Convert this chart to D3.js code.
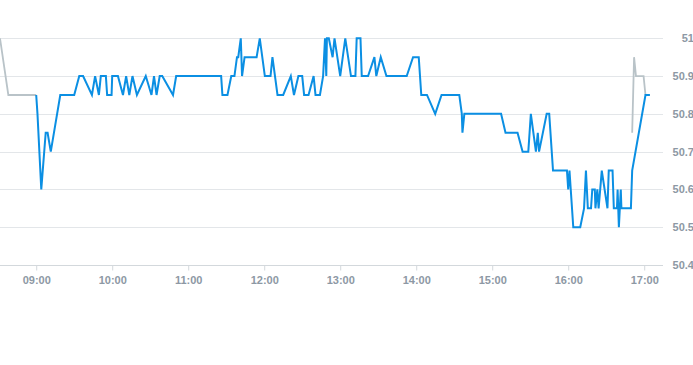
<!DOCTYPE html>
<html>
<head>
<meta charset="utf-8">
<script src="https://cdn.jsdelivr.net/npm/d3@7"></script>
<style>
  html, body { margin: 0; padding: 0; background: #fff; }
  svg { display: block; }
  text { font-family: "Liberation Sans", Arial, sans-serif; }
</style>
</head>
<body>
<svg id="chart" width="693" height="365"></svg>
<script>
// ---- data ----
const priceTimes = [
  "09:00","09:01","09:04","09:07:30","09:09","09:11:30","09:19","09:30","09:34","09:37",
  "09:44","09:46:30","09:49:30","09:51","09:55","09:56","09:59:30","10:00","10:04:30","10:08:30",
  "10:11","10:13:30","10:16","10:19:30","10:26:30","10:31","10:33","10:35","10:37:30","10:39:30",
  "10:48","10:50:30","11:26","11:27","11:31","11:34","11:36:30","11:38:30","11:39:30","11:41:30",
  "11:42:30","11:44:30","11:54","11:56:30","12:00:30","12:05","12:06:30","12:10:30","12:15","12:21",
  "12:23:30","12:27","12:30","12:31:30","12:35","12:39","12:40:30","12:44","12:46:30","12:48",
  "12:49","12:49:30","12:51","12:54","12:55:30","13:00","13:04","13:08:30","13:12","13:13",
  "13:16","13:17","13:22","13:27","13:28:30","13:32","13:36:30","13:52:30","13:57:30","14:02",
  "14:04","14:08:30","14:15","14:20","14:34","14:36","14:36:30","14:38","15:07","15:10:30",
  "15:20","15:24","15:28:30","15:30:30","15:34:30","15:36","15:37","15:43","15:45","15:48",
  "15:59","16:00","16:01","16:04","16:09:30","16:12:30","16:14","16:15:30","16:18","16:19",
  "16:21","16:21:30","16:23","16:24","16:26:30","16:31","16:32","16:35","16:36","16:38:30",
  "16:39","16:40","16:41:30","16:42","16:49:30","16:50:30","17:01","17:04:30"
];
const priceValues = [
  50.85,50.8,50.6,50.75,50.75,50.7,50.85,50.85,50.9,50.9,
  50.85,50.9,50.85,50.9,50.9,50.85,50.85,50.9,50.9,50.85,
  50.9,50.85,50.9,50.85,50.9,50.85,50.9,50.85,50.9,50.9,
  50.85,50.9,50.9,50.85,50.85,50.9,50.9,50.95,50.95,51.0,
  50.9,50.95,50.95,51.0,50.9,50.9,50.95,50.85,50.85,50.9,
  50.85,50.9,50.9,50.85,50.85,50.9,50.85,50.85,50.9,51.0,
  50.9,51.0,51.0,50.95,51.0,50.9,51.0,50.9,50.9,51.0,
  51.0,50.9,50.9,50.95,50.9,50.95,50.9,50.9,50.95,50.95,
  50.85,50.85,50.8,50.85,50.85,50.8,50.75,50.8,50.8,50.75,
  50.75,50.7,50.7,50.8,50.7,50.75,50.7,50.8,50.8,50.65,
  50.65,50.6,50.65,50.5,50.5,50.55,50.65,50.55,50.55,50.6,
  50.6,50.55,50.6,50.55,50.65,50.55,50.65,50.65,50.55,50.55,
  50.6,50.5,50.6,50.55,50.55,50.65,50.85,50.85
];
// grey reference segments (pre-open and closing auction)
const preTimes = ["08:31:25","08:38","09:00"];
const preValues = [51.0, 50.85, 50.85];
const postTimes = ["16:50:30","16:52","16:53:30","16:59:30","17:01"];
const postValues = [50.75, 50.95, 50.9, 50.9, 50.85];

const xTickLabels = ["09:00","10:00","11:00","12:00","13:00","14:00","15:00","16:00","17:00"];
const yTickValues = [50.4, 50.5, 50.6, 50.7, 50.8, 50.9, 51.0];
const xDomain = ["08:31:25", "17:14:50"];
const yDomain = [50.4, 51.0];

// ---- helpers ----
const parseT = s => {
  const p = s.split(":").map(Number);
  return new Date(2020, 0, 1, p[0], p[1], p[2] || 0);
};
const zip = (ts, vs) => ts.map((t, i) => ({ t: parseT(t), v: vs[i] }));

const svg = d3.select("#chart");
const plotL = 0, plotR = 663, plotT = 38.3, plotB = 265;

const x = d3.scaleTime().domain(xDomain.map(parseT)).range([plotL, plotR]);
const y = d3.scaleLinear().domain(yDomain).range([plotB, plotT]);

// grid lines
svg.append("g")
  .selectAll("line")
  .data(yTickValues)
  .join("line")
  .attr("x1", plotL).attr("x2", plotR)
  .attr("y1", d => Math.round(y(d)) + 0.5).attr("y2", d => Math.round(y(d)) + 0.5)
  .attr("stroke", d => d === 50.4 ? "#d3d8dc" : "#e3e6e9")
  .attr("stroke-width", 1);

// right-side y labels
svg.append("g")
  .selectAll("text")
  .data(yTickValues)
  .join("text")
  .attr("x", 694)
  .attr("y", d => y(d))
  .attr("dy", "0.35em")
  .attr("text-anchor", "end")
  .attr("fill", "#8d98a4")
  .attr("font-size", 11)
  .attr("font-weight", "bold")
  .text(d => String(+d.toFixed(1)));

// x axis
const xAxis = d3.axisBottom(x)
  .tickValues(xTickLabels.map(parseT))
  .tickFormat(d3.timeFormat("%H:%M"))
  .tickSize(5)
  .tickSizeOuter(0);
const gx = svg.append("g")
  .attr("transform", `translate(0,${Math.round(plotB) + 0.5})`)
  .call(xAxis);
gx.select(".domain").remove();
gx.selectAll(".tick line").attr("stroke", "#d3d8dc");
gx.selectAll(".tick text")
  .attr("fill", "#8d98a4")
  .attr("font-size", 11)
  .attr("font-weight", "bold")
  .attr("font-family", "Liberation Sans, Arial, sans-serif")
  .attr("dy", "0.95em");

// lines
const line = d3.line().x(d => x(d.t)).y(d => y(d.v));

svg.append("path")
  .datum(zip(preTimes, preValues))
  .attr("fill", "none")
  .attr("stroke", "#b9c3c8")
  .attr("stroke-width", 1.8)
  .attr("d", line);

svg.append("path")
  .datum(zip(postTimes, postValues))
  .attr("fill", "none")
  .attr("stroke", "#b9c3c8")
  .attr("stroke-width", 1.8)
  .attr("d", line);

svg.append("path")
  .datum(zip(priceTimes, priceValues))
  .attr("fill", "none")
  .attr("stroke", "#0b8fe3")
  .attr("stroke-width", 2)
  .attr("stroke-linejoin", "miter")
  .attr("d", line);
</script>
</body>
</html>
